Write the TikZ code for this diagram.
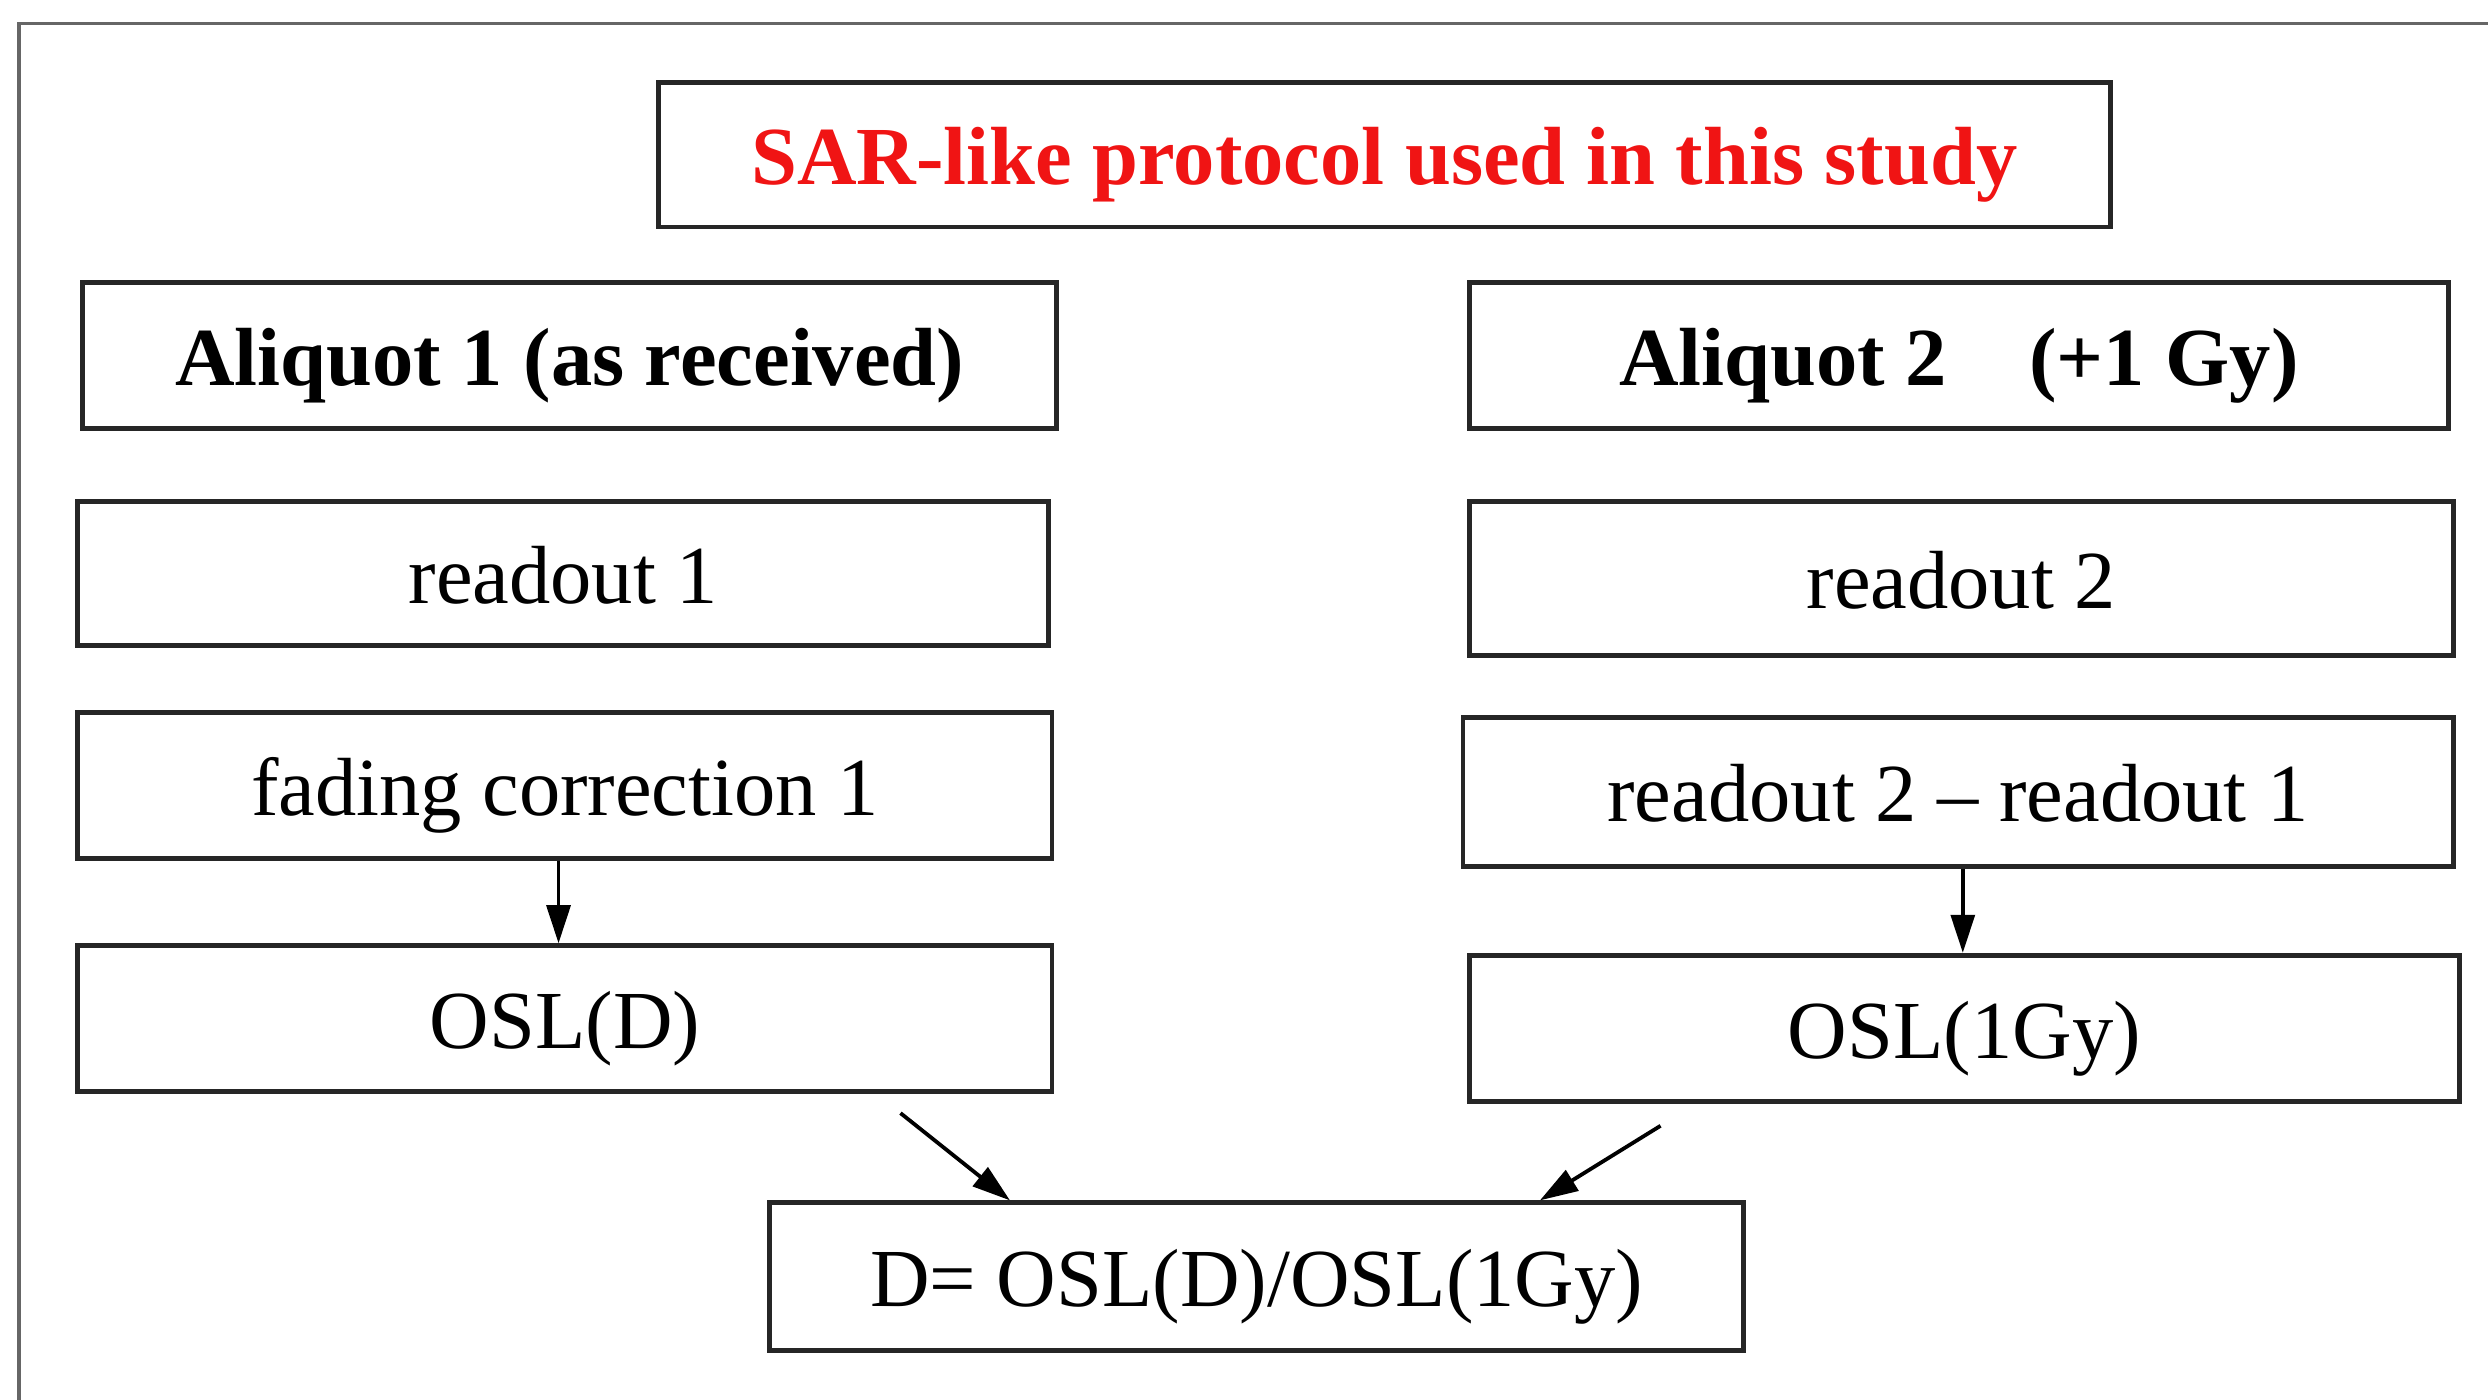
\documentclass[tikz,border=0pt]{standalone}
\usepackage{fontspec}
\setmainfont{Liberation Serif}
\newfontfamily\cfont[Ligatures=TeX]{Liberation Serif}
\usetikzlibrary{arrows.meta,calc}
\definecolor{titlered}{RGB}{240,20,20}
\begin{document}
\begin{tikzpicture}[x=0.5pt,y=-0.5pt,
  box/.style={draw=black!85,line width=1.5pt,rectangle,inner sep=0pt,
    text height=18.9pt,text depth=0pt,
    font=\cfont\fontsize{26}{30}\selectfont},
  bbox/.style={box,font=\cfont\bfseries\fontsize{26}{30}\selectfont},
  arr/.style={line width=1.2pt,-{Triangle[length=12pt,width=7.5pt]}},
  frame/.style={draw=black!60,line width=1pt}]
\useasboundingbox (0,0) rectangle (1568,882);
\draw[frame] (1568,15) -- (12,15) -- (12,882);
\node[bbox,minimum width=457.5pt,minimum height=45.5pt,text=titlered] (T) at (872.5,97.5) {SAR-like protocol used in this study};
\node[bbox,minimum width=307pt,minimum height=46pt] (A1) at (359,224) {Aliquot 1 (as received)};
\node[bbox,minimum width=308.5pt,minimum height=46pt] (A2) at (1234.5,224) {Aliquot 2\hspace{1.0em}(+1 Gy)};
\node[box,minimum width=306pt,minimum height=45.5pt] (R1) at (355,361.5) {readout 1};
\node[box,minimum width=310pt,minimum height=48.5pt] (R2) at (1236,364.5) {readout 2};
\node[box,minimum width=307pt,minimum height=46pt] (F1) at (356,495) {fading correction 1};
\node[box,minimum width=312pt,minimum height=47pt] (RD) at (1234,499) {readout 2 – readout 1};
\node[box,minimum width=307pt,minimum height=46pt] (O1) at (356,642) {OSL(D)};
\node[box,minimum width=312pt,minimum height=46pt] (O2) at (1238,648) {OSL(1Gy)};
\node[box,minimum width=307pt,minimum height=46.5pt] (D) at (792,804.5) {D= OSL(D)/OSL(1Gy)};
\draw[arr] ($(F1.south)+(-4,0)$) -- ($(F1.south |- O1.north)+(-4,0)$);
\draw[arr] ($(RD.south)+(3,0)$) -- ($(RD.south |- O2.north)+(3,0)$);
\coordinate (s1) at ($(O1.south east)+(-97,12)$);
\coordinate (e1) at ($(D.north west)+(153,0)$);
\coordinate (s2) at ($(O2.south west)+(122,14)$);
\coordinate (e2) at ($(D.north west)+(487,0)$);
\draw[arr] (s1) -- (e1);
\draw[arr] (s2) -- (e2);
\end{tikzpicture}
\end{document}
